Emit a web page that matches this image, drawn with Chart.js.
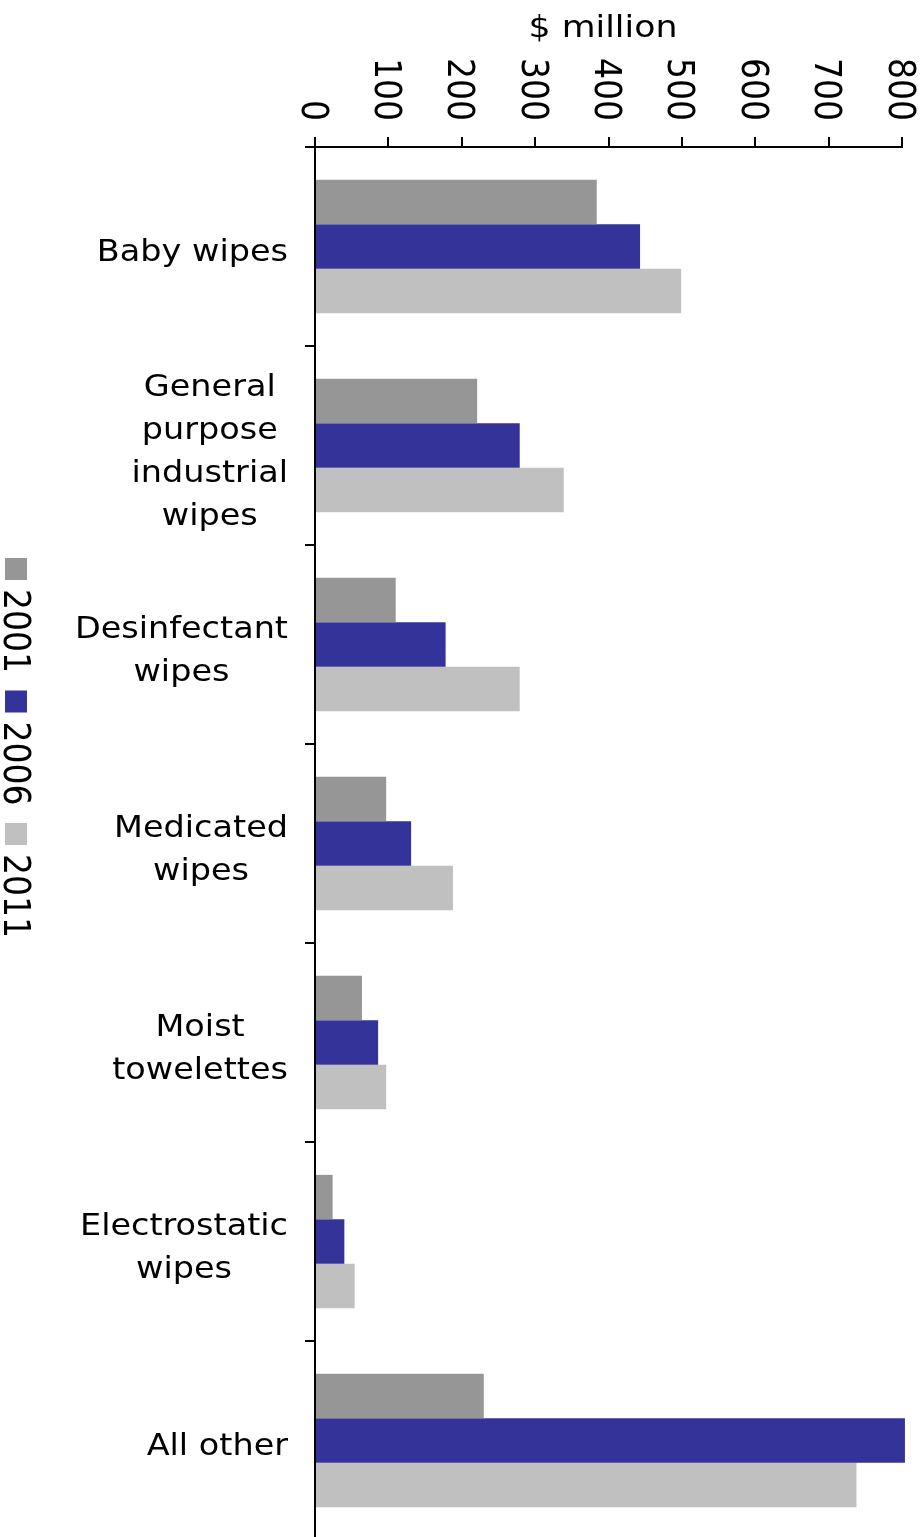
<!DOCTYPE html>
<html>
<head>
<meta charset="utf-8">
<title>Wipes market, $ million</title>
<script src="https://cdn.jsdelivr.net/npm/chart.js@4/dist/chart.umd.min.js"></script>
<style>
  html, body { margin: 0; padding: 0; background: #fff; overflow: hidden; }
  #wrap { width: 923px; height: 1537px; overflow: hidden; }
  canvas { display: block; }
</style>
</head>
<body>
<div id="wrap"><canvas id="chart" width="923" height="1540"></canvas></div>
<script>
// Product segments (multi-line labels as arrays)
const categories = [
  ['Baby wipes'],
  ['General', 'purpose', 'industrial', 'wipes'],
  ['Desinfectant', 'wipes'],
  ['Medicated', 'wipes'],
  ['Moist', 'towelettes'],
  ['Electrostatic', 'wipes'],
  ['All other']
];

// Sales, $ million
const years = ['2001', '2006', '2011'];
const sales2001 = [384, 221, 110, 97, 64, 24, 230];
const sales2006 = [443, 279, 178, 131, 86, 40, 804];
const sales2011 = [499, 339, 279, 188, 97, 54, 738];

const axisTicks = [0, 100, 200, 300, 400, 500, 600, 700, 800];
const axisTitle = '$ million';

const colors = ['#969696', '#333399', '#c0c0c0'];
const FONT = 'DejaVu Sans, Verdana, sans-serif';
const SX = 1.12;     // horizontal widening of the rotated and title lettering
const SX_CAT = 1.08; // horizontal widening of the category labels

// Draws the rotated value labels, the axis title, the category labels and the legend
const textLayer = {
  id: 'textLayer',
  afterDraw(chart) {
    const ctx = chart.ctx;
    const xs = chart.scales.x;
    const ys = chart.scales.y;
    ctx.save();
    ctx.fillStyle = '#000';

    // axis title
    ctx.save();
    ctx.font = '31px ' + FONT;
    ctx.textAlign = 'center';
    ctx.textBaseline = 'alphabetic';
    ctx.translate(603, 37);
    ctx.scale(SX, 1);
    ctx.fillText(axisTitle, 0, 0);
    ctx.restore();

    // value axis labels, turned a quarter clockwise
    ctx.font = '33px ' + FONT;
    axisTicks.forEach(v => {
      const px = xs.getPixelForValue(v);
      ctx.save();
      ctx.translate(px - 13.5, 121);
      ctx.scale(SX, 1);
      ctx.rotate(Math.PI / 2);
      ctx.textAlign = 'right';
      ctx.textBaseline = 'alphabetic';
      ctx.fillText(String(v), 0, 0);
      ctx.restore();
    });

    // category labels: right-aligned block, lines centred inside it
    ctx.font = '31px ' + FONT;
    const lineH = 43;
    categories.forEach((lines, i) => {
      const cy = ys.getPixelForValue(i);
      const w = Math.max(...lines.map(t => ctx.measureText(t).width)) * SX_CAT;
      const cx = 288 - w / 2;
      lines.forEach((t, j) => {
        const by = cy + 14.5 + (j - (lines.length - 1) / 2) * lineH;
        ctx.save();
        ctx.translate(cx, by);
        ctx.scale(SX_CAT, 1);
        ctx.textAlign = 'center';
        ctx.textBaseline = 'alphabetic';
        ctx.fillText(t, 0, 0);
        ctx.restore();
      });
    });

    // legend, running down the left edge
    ctx.font = '33px ' + FONT;
    chart.data.datasets.forEach((ds, i) => {
      const y0 = 558 + i * 132.5;
      ctx.fillStyle = ds.backgroundColor;
      ctx.fillRect(5, y0, 22, 22);
      ctx.fillStyle = '#000';
      ctx.save();
      ctx.translate(4, y0 + 31);
      ctx.scale(SX, 1);
      ctx.rotate(Math.PI / 2);
      ctx.textAlign = 'left';
      ctx.textBaseline = 'alphabetic';
      ctx.fillText(ds.label, 0, 0);
      ctx.restore();
    });

    ctx.restore();
  }
};

new Chart(document.getElementById('chart'), {
  type: 'bar',
  data: {
    labels: categories.map(l => l.join(' ')),
    datasets: [
      { label: years[0], data: sales2001, backgroundColor: colors[0] },
      { label: years[1], data: sales2006, backgroundColor: colors[1] },
      { label: years[2], data: sales2011, backgroundColor: colors[2] }
    ]
  },
  options: {
    indexAxis: 'y',
    responsive: false,
    animation: false,
    clip: false,
    layout: { padding: { left: 305, top: 137, right: 21, bottom: 0 } },
    datasets: {
      bar: { categoryPercentage: 0.67, barPercentage: 1.0, borderWidth: 0 }
    },
    plugins: {
      legend: { display: false },
      tooltip: { enabled: false }
    },
    scales: {
      x: {
        position: 'top',
        min: 0,
        max: 800,
        ticks: { display: false, stepSize: 100 },
        grid: {
          drawOnChartArea: false,
          drawTicks: true,
          tickLength: 10,
          lineWidth: 2,
          color: '#000'
        },
        border: { display: true, color: '#000', width: 2 }
      },
      y: {
        ticks: { display: false },
        grid: {
          offset: true,
          drawOnChartArea: false,
          drawTicks: true,
          tickLength: 10,
          lineWidth: 2,
          color: '#000'
        },
        border: { display: true, color: '#000', width: 2 }
      }
    }
  },
  plugins: [textLayer]
});
</script>
</body>
</html>
